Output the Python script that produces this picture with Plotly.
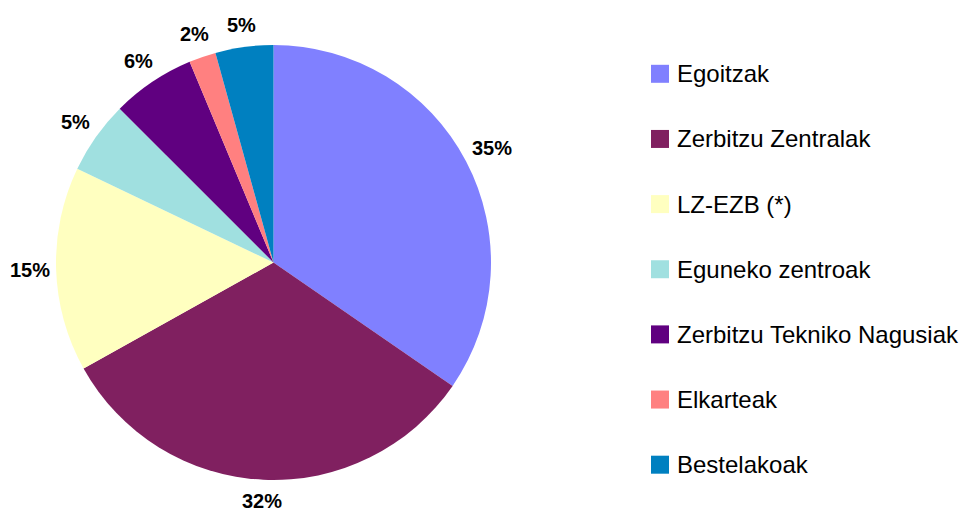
import math
import plotly.graph_objects as go

categories = ["Egoitzak", "Zerbitzu Zentralak", "LZ-EZB (*)", "Eguneko zentroak",
              "Zerbitzu Tekniko Nagusiak", "Elkarteak", "Bestelakoak"]
values = [34.6, 32.3, 15.2, 5.4, 6.2, 2.0, 4.3]
pct_labels = ["35%", "32%", "15%", "5%", "6%", "2%", "5%"]
colors = ["#8080FF", "#802060", "#FFFFC0", "#A0E0E0", "#600080", "#FF8080", "#0080C0"]

W, H = 968, 512
OFF = 8  # page body margin offset
FONT = "Liberation Sans, Arial, sans-serif"


def px(x):
    return (x - OFF) / W


def py(y):
    return 1 - (y - OFF) / H


cx, cy, r = 273.5, 262.5, 217.5  # screen coords of pie

fig = go.Figure()
fig.add_trace(go.Pie(
    labels=categories, values=values,
    textinfo="none",
    marker=dict(colors=colors, line=dict(width=0)),
    sort=False, direction="clockwise", rotation=0,
    domain=dict(x=[px(cx - r), px(cx + r)], y=[py(cy + r), py(cy - r)]),
    showlegend=False, hoverinfo="label+percent",
))

annotations = []
shapes = []


def box_dist(D, s, c, a, b):
    dx = max(abs(D * s) - a, 0.0)
    dy = max(abs(D * c) - b, 0.0)
    return math.hypot(dx, dy)


# percentage labels outside the slices, placed from the slice mid-angles
lab_size = 20
gap = 8.5
total = sum(values)
cum = 0.0
for v, t in zip(values, pct_labels):
    mid = (cum + v / 2) / total * 2 * math.pi
    cum += v
    s, c = math.sin(mid), math.cos(mid)
    a = lab_size * (0.556 * (len(t) - 1) + 0.889) / 2 - 3
    b = 12.5
    lo, hi = 0.0, 600.0
    for _ in range(60):
        m = (lo + hi) / 2
        if box_dist(m, s, c, a, b) < r + gap:
            lo = m
        else:
            hi = m
    D = (lo + hi) / 2
    x = cx + s * D
    y = cy - c * D
    annotations.append(dict(xref="paper", yref="paper", x=px(x), y=py(y), text=t,
                            showarrow=False, xanchor="center", yanchor="middle",
                            font=dict(family=FONT, size=lab_size, color="black", weight="bold")))

# legend drawn manually
lx, ly0, lgap, sq = 651, 73.8, 65.15, 18
for i, (name, col) in enumerate(zip(categories, colors)):
    yc = ly0 + i * lgap
    shapes.append(dict(type="rect", xref="paper", yref="paper",
                       x0=px(lx), x1=px(lx + sq),
                       y0=py(yc + sq / 2), y1=py(yc - sq / 2),
                       fillcolor=col, line=dict(width=0)))
    annotations.append(dict(xref="paper", yref="paper", x=px(lx + sq + 8), y=py(yc),
                            text=name, showarrow=False, xanchor="left", yanchor="middle",
                            xshift=-2,
                            font=dict(family=FONT, size=24, color="black")))

fig.update_layout(
    width=W, height=H, margin=dict(l=0, r=0, t=0, b=0),
    paper_bgcolor="white", plot_bgcolor="white",
    shapes=shapes, annotations=annotations,
)
fig.write_html("out.html")
